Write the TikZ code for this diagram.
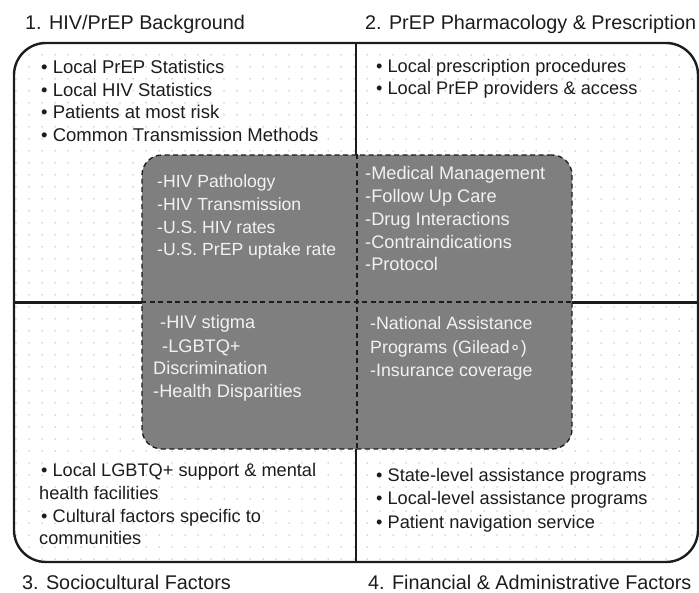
\documentclass[tikz,border=0pt]{standalone}
\usepackage{fontspec}
\setmainfont{Liberation Sans}
\newfontfamily\symfont{DejaVu Sans}
\definecolor{ink}{HTML}{1C1C1C}
\definecolor{coregray}{HTML}{7F7F7F}
\definecolor{dotgray}{HTML}{B4B4B4}
\definecolor{paper}{HTML}{F2F2F2}
\tikzset{
  title/.style={anchor=base west, inner sep=0, text=ink, font=\fontsize{19.8}{23}\selectfont},
  item/.style={anchor=base west, inner sep=0, text=ink, font=\fontsize{18.2}{22}\selectfont},
  coreitem/.style={item, text=paper},
  smallitem/.style={coreitem, font=\fontsize{17.6}{21}\selectfont},
  dashline/.style={draw=ink, line width=1.3pt, dash pattern=on 5pt off 3.5pt},
  rule/.style={ink, line width=2.4pt},
}
\begin{document}
\begin{tikzpicture}[x=1pt,y=-1pt]
		\useasboundingbox (0,0) rectangle (699,593);

		% dotted paper
		\begin{scope}
			\clip[rounded corners=32pt] (14,43) rectangle (698,562);
			\foreach \x in {16,29,...,698}
				\foreach \y in {55,67,...,562}
					\fill[dotgray] (\x,\y) circle (0.75pt);
		\end{scope}

		\node[draw=ink, line width=2.4pt, rounded corners=32pt, minimum width=684pt, minimum height=519pt, inner sep=0] (frame) at (356,302.5) {};
		\draw[rule] (frame.north) -- (frame.south);
		\draw[rule] (frame.west) -- (frame.east);

		\node[fill=coregray, dashline, rounded corners=20pt, minimum width=430pt, minimum height=294pt, inner sep=0] (core) at (357,302) {};
		\draw[dashline] (core.north) -- (core.south);
		\draw[dashline] (core.west) -- (core.east);

		\node[title] (t1) at (25,30) {1. HIV/PrEP Background};
		\node[title] (t2) at (365,30) {2. PrEP Pharmacology \& Prescription};
		\node[title] (t3) at (22,589) {3. Sociocultural Factors};
		\node[title] (t4) at (368,589) {4. Financial \& Administrative Factors};

		% outer quadrants
		\foreach \y/\t [count=\i] in {74/Local PrEP Statistics, 96.5/Local HIV Statistics, 119/Patients at most risk, 141.5/Common Transmission Methods}
			\node[item, font=\fontsize{18.5}{22}\selectfont] (bg\i) at (41,\y) {• \t};
		\foreach \y/\t [count=\i] in {73/Local prescription procedures, 95/Local PrEP providers \& access}
			\node[item] (rx\i) at (376,\y) {• \t};
		\foreach \x/\y/\t [count=\i] in {41/476/• Local LGBTQ+ support \& mental, 39/499/health facilities, 41/522/• Cultural factors specific to, 39/544/communities}
			\node[item] (soc\i) at (\x,\y) {\t};
		\foreach \y/\t [count=\i] in {481/State-level assistance programs, 504/Local-level assistance programs, 528/Patient navigation service}
			\node[item] (fin\i) at (376,\y) {• \t};

		% core
		\foreach \y/\t [count=\i] in {188/-HIV Pathology, 211/-HIV Transmission, 234/-U.S. HIV rates, 256/-U.S. PrEP uptake rate}
			\node[smallitem] (bgc\i) at (157,\y) {\t};
		\foreach \y/\t [count=\i] in {180/-Medical Management, 203/-Follow Up Care, 226/-Drug Interactions, 249/-Contraindications, 271/-Protocol}
			\node[coreitem] (rxc\i) at (365,\y) {\t};
		\foreach \x/\y/\t [count=\i] in {160/329/-HIV stigma, 162/353/-LGBTQ+, 153/375/Discrimination, 153/398/-Health Disparities}
			\node[coreitem] (socc\i) at (\x,\y) {\t};
		\foreach \y/\t [count=\i] in {330/-National Assistance, 354/Programs (Gilead{\symfont ∘}), 377/-Insurance coverage}
			\node[coreitem, font=\fontsize{17.8}{21}\selectfont] (finc\i) at (370,\y) {\t};
	\end{tikzpicture}
\end{document}
